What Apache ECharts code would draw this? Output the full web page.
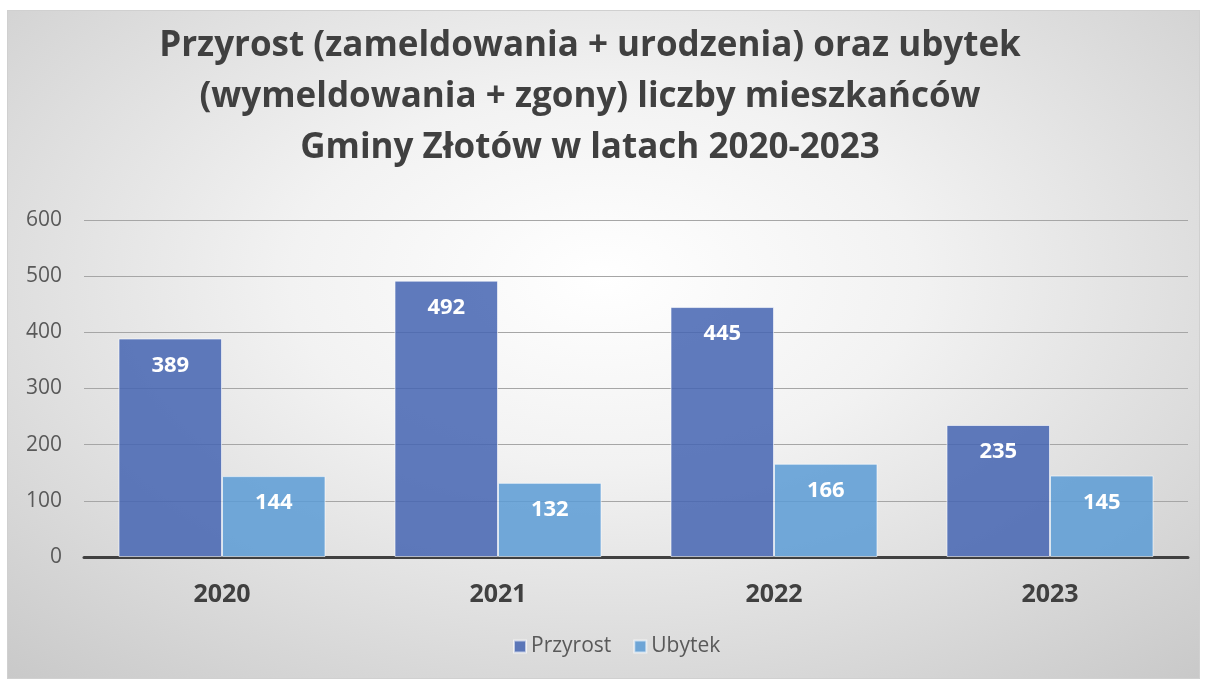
<!DOCTYPE html>
<html>
<head>
<meta charset="utf-8">
<script src="https://cdn.jsdelivr.net/npm/echarts@6/dist/echarts.min.js"></script>
<style>
  html, body { margin: 0; padding: 0; background: #fff; }
  #chart {
    position: absolute; left: 7px; top: 10px; width: 1193px; height: 669px;
    background: radial-gradient(ellipse 75% 80% at 50% 40%, #ffffff 0%, #f2f2f2 35%, #dcdcdc 70%, #c9c9c9 100%);
    box-shadow: inset 0 0 0 1px #d0d0d0;
  }
</style>
</head>
<body>
<div id="chart"></div>
<script>
var years = ['2020', '2021', '2022', '2023'];
var przyrost = [389, 492, 445, 235];
var ubytek = [144, 132, 166, 145];
var yTicks = [0, 100, 200, 300, 400, 500, 600];
var titleText = 'Przyrost (zameldowania + urodzenia) oraz ubytek\n(wymeldowania + zgony) liczby mieszkańców\nGminy Złotów w latach 2020-2023';

var chart = echarts.init(document.getElementById('chart'));

var labelStyle = {
    show: true,
    position: 'insideTop',
    distance: 16,
    color: '#ffffff',
    fontSize: 22,
    fontWeight: 'bold',
    fontFamily: 'Open Sans'
};

var option = {
    textStyle: { fontFamily: 'Open Sans' },
    graphic: [{
        type: 'text',
        x: 583,
        y: 11,
        style: {
            text: titleText,
            textAlign: 'center',
            fontSize: 35,
            fontWeight: 'bold',
            fill: '#404040',
            lineHeight: 51,
            fontFamily: 'Open Sans'
        }
    }],
    legend: {
        bottom: 17,
        left: 501,
        itemWidth: 12,
        itemHeight: 12,
        itemGap: 22,
        icon: 'rect',
        textStyle: { fontSize: 21, color: '#595959', fontFamily: 'Open Sans' },
        data: ['Przyrost', 'Ubytek']
    },
    grid: {
        left: 77,
        right: 12,
        top: 210,
        bottom: 122,
        containLabel: false
    },
    xAxis: {
        type: 'category',
        data: years,
        axisLine: { lineStyle: { color: '#404040', width: 3 } },
        axisTick: { show: false },
        axisLabel: {
            fontSize: 25,
            fontWeight: 'bold',
            color: '#404040',
            margin: 25
        }
    },
    yAxis: {
        type: 'value',
        min: yTicks[0],
        max: yTicks[yTicks.length - 1],
        interval: 100,
        axisLine: { show: false },
        axisTick: { show: false },
        axisLabel: { fontSize: 21, color: '#595959', margin: 22 },
        splitLine: { lineStyle: { color: '#a6a6a6', width: 1 } }
    },
    series: [
        {
            name: 'Przyrost',
            type: 'bar',
            data: przyrost,
            barGap: '0%',
            barCategoryGap: '25%',
            itemStyle: {
                color: 'rgba(68, 100, 178, 0.85)',
                borderColor: 'rgba(255,255,255,0.6)',
                borderWidth: 1
            },
            label: labelStyle
        },
        {
            name: 'Ubytek',
            type: 'bar',
            data: ubytek,
            barGap: '0%',
            barCategoryGap: '25%',
            itemStyle: {
                color: 'rgba(91, 155, 213, 0.85)',
                borderColor: 'rgba(255,255,255,0.6)',
                borderWidth: 1
            },
            label: labelStyle
        }
    ]
};

chart.setOption(option);
</script>
</body>
</html>
